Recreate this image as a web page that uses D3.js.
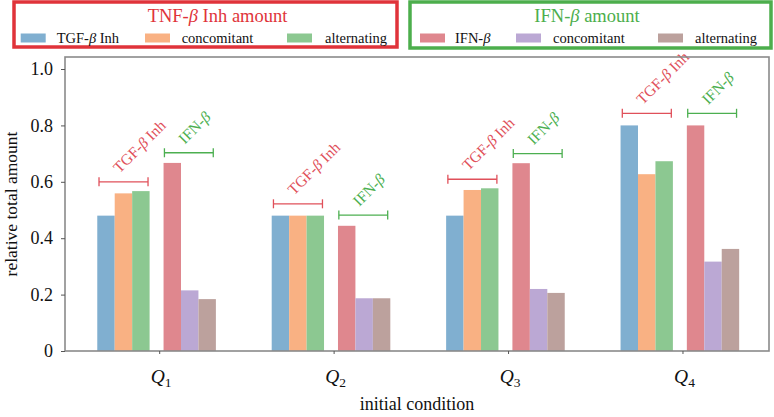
<!DOCTYPE html>
<html>
<head>
<meta charset="utf-8">
<script src="https://cdn.jsdelivr.net/npm/d3@7/dist/d3.min.js"></script>
<style>
  html, body { margin: 0; padding: 0; background: #fff; }
  svg { display: block; }
  svg text { font-family: "Liberation Serif", "Times New Roman", "DejaVu Serif", serif; }
</style>
</head>
<body>
<svg id="chart" width="774" height="417"></svg>
<script>
// ---- data ----
const categories = ["1", "2", "3", "4"]; // Q subscripts
const tgfInhTNF = [0.48, 0.48, 0.48, 0.80];
const concomitantTNF = [0.559, 0.48, 0.571, 0.627];
const alternatingTNF = [0.567, 0.48, 0.577, 0.673];
const ifnIFN = [0.667, 0.444, 0.666, 0.80];
const concomitantIFN = [0.215, 0.187, 0.22, 0.317];
const alternatingIFN = [0.184, 0.187, 0.206, 0.362];
const tnfBracketLevel = [0.60, 0.522, 0.609, 0.843];
const ifnBracketLevel = [0.703, 0.482, 0.70, 0.843];
const yTicks = [0, 0.2, 0.4, 0.6, 0.8, 1.0];
const yTickLabels = ["0", "0.2", "0.4", "0.6", "0.8", "1.0"];
const tnfLegendLabels = ["TGF-|β| Inh", "concomitant", "alternating"];
const ifnLegendLabels = ["IFN-|β|", "concomitant", "alternating"];

// ---- layout ----
const svg = d3.select("#chart");
const L = 65, R = 769, T = 57, B = 351;
const x = d3.scaleLinear().domain([-0.54, 3.496]).range([L, R]);
const y = d3.scaleLinear().domain([0, 1.0426]).range([B, T]);
const barW = 0.1;

const red = "#e0333a", green = "#4cae4c";
const annRed = "#e0505a", annGreen = "#4caf50";

const series = [
  { values: tgfInhTNF, color: "#80afd0", off: -0.355 },
  { values: concomitantTNF, color: "#f9b183", off: -0.255 },
  { values: alternatingTNF, color: "#8cc891", off: -0.155 },
  { values: ifnIFN, color: "#df878e", off: 0.025 },
  { values: concomitantIFN, color: "#bba8d4", off: 0.125 },
  { values: alternatingIFN, color: "#bca19d", off: 0.225 }
];

// writes text containing |β| segments as italic tspans
function richText(sel, str) {
  str.split("|").forEach((part, i) => {
    if (!part) return;
    const t = sel.append("tspan").text(part);
    if (i % 2 === 1) t.attr("font-style", "italic");
  });
}

// bars
const gBars = svg.append("g");
series.forEach(s => {
  gBars.selectAll(null).data(s.values).enter().append("rect")
    .attr("x", (d, i) => x(i + s.off))
    .attr("width", (d, i) => x(i + s.off + barW) - x(i + s.off))
    .attr("y", d => y(d))
    .attr("height", d => y(0) - y(d))
    .attr("fill", s.color);
});

// brackets + annotations
function bracket(levels, x0off, x1off, color, label) {
  const g = svg.append("g").attr("stroke", color).attr("stroke-width", 1.3).attr("fill", "none");
  levels.forEach((lv, i) => {
    const xa = x(i + x0off), xb = x(i + x1off), yy = y(lv);
    g.append("line").attr("x1", xa).attr("x2", xb).attr("y1", yy).attr("y2", yy);
    g.append("line").attr("x1", xa).attr("x2", xa).attr("y1", yy - 4.5).attr("y2", yy + 4.5);
    g.append("line").attr("x1", xb).attr("x2", xb).attr("y1", yy - 4.5).attr("y2", yy + 4.5);
    const cx = (xa + xb) / 2;
    const t = svg.append("text")
      .attr("transform", `translate(${cx - 4},${yy - 8}) rotate(-45)`)
      .attr("fill", color).attr("font-size", 15.5);
    richText(t, label);
  });
}
bracket(tnfBracketLevel, -0.345, -0.064, annRed, "TGF-|β| Inh");
bracket(ifnBracketLevel, 0.03, 0.31, annGreen, "IFN-|β|");

// frame
svg.append("rect").attr("x", L).attr("y", T).attr("width", R - L).attr("height", B - T)
  .attr("fill", "none").attr("stroke", "#8a8a8a").attr("stroke-width", 1.6);

// y axis
const yAxis = svg.append("g").attr("transform", `translate(${L},0)`)
  .call(d3.axisLeft(y).tickValues(yTicks).tickFormat((d, i) => yTickLabels[i]).tickSize(4).tickPadding(8));
yAxis.attr("font-family", null).attr("font-size", null);
yAxis.select(".domain").remove();
yAxis.selectAll(".tick line").attr("stroke", "#555");
yAxis.selectAll(".tick text").attr("font-size", 18).attr("fill", "#111");

// x axis
const xAxis = svg.append("g").attr("transform", `translate(0,${B})`)
  .call(d3.axisBottom(x).tickValues(categories.map((c, i) => i)).tickSize(3).tickFormat(""));
xAxis.select(".domain").remove();
xAxis.selectAll(".tick line").attr("stroke", "#555");
categories.forEach((c, i) => {
  const t = svg.append("text").attr("x", x(i) + 2).attr("y", 383)
    .attr("text-anchor", "middle").attr("font-size", 19.5).attr("fill", "#111");
  t.append("tspan").attr("font-style", "italic").text("Q");
  t.append("tspan").attr("font-size", 13.5).attr("dy", 4).text(c);
});

// axis titles
svg.append("text").attr("x", (L + R) / 2).attr("y", 410).attr("text-anchor", "middle")
  .attr("font-size", 18).attr("fill", "#111").text("initial condition");
svg.append("text").attr("transform", `translate(17,${(T + B) / 2}) rotate(-90)`)
  .attr("text-anchor", "middle").attr("font-size", 17.5).attr("fill", "#111").text("relative total amount");

// legends
function legend(box, title, titleCx, color, labels, patchXs, textXs, colors) {
  svg.append("rect").attr("x", box[0]).attr("y", box[1]).attr("width", box[2] - box[0]).attr("height", box[3] - box[1])
    .attr("fill", "none").attr("stroke", color).attr("stroke-width", 3.5);
  const tt = svg.append("text").attr("x", titleCx).attr("y", 22).attr("text-anchor", "middle")
    .attr("font-size", 18.5).attr("fill", color);
  richText(tt, title);
  labels.forEach((lab, i) => {
    svg.append("rect").attr("x", patchXs[i]).attr("y", 33.5).attr("width", 25).attr("height", 9).attr("fill", colors[i]);
    const t = svg.append("text").attr("x", textXs[i]).attr("y", 42.5).attr("font-size", 14.5).attr("fill", "#111");
    richText(t, lab);
  });
}
legend([14, 2, 397, 47], "TNF-|β| Inh amount", 217.5, red, tnfLegendLabels,
  [20.7, 145, 287], [56.7, 181.7, 325], series.slice(0, 3).map(s => s.color));
legend([410, 2, 771, 48], "IFN-|β| amount", 587, green, ifnLegendLabels,
  [420, 516, 658], [455, 553, 695], series.slice(3).map(s => s.color));
</script>
</body>
</html>
